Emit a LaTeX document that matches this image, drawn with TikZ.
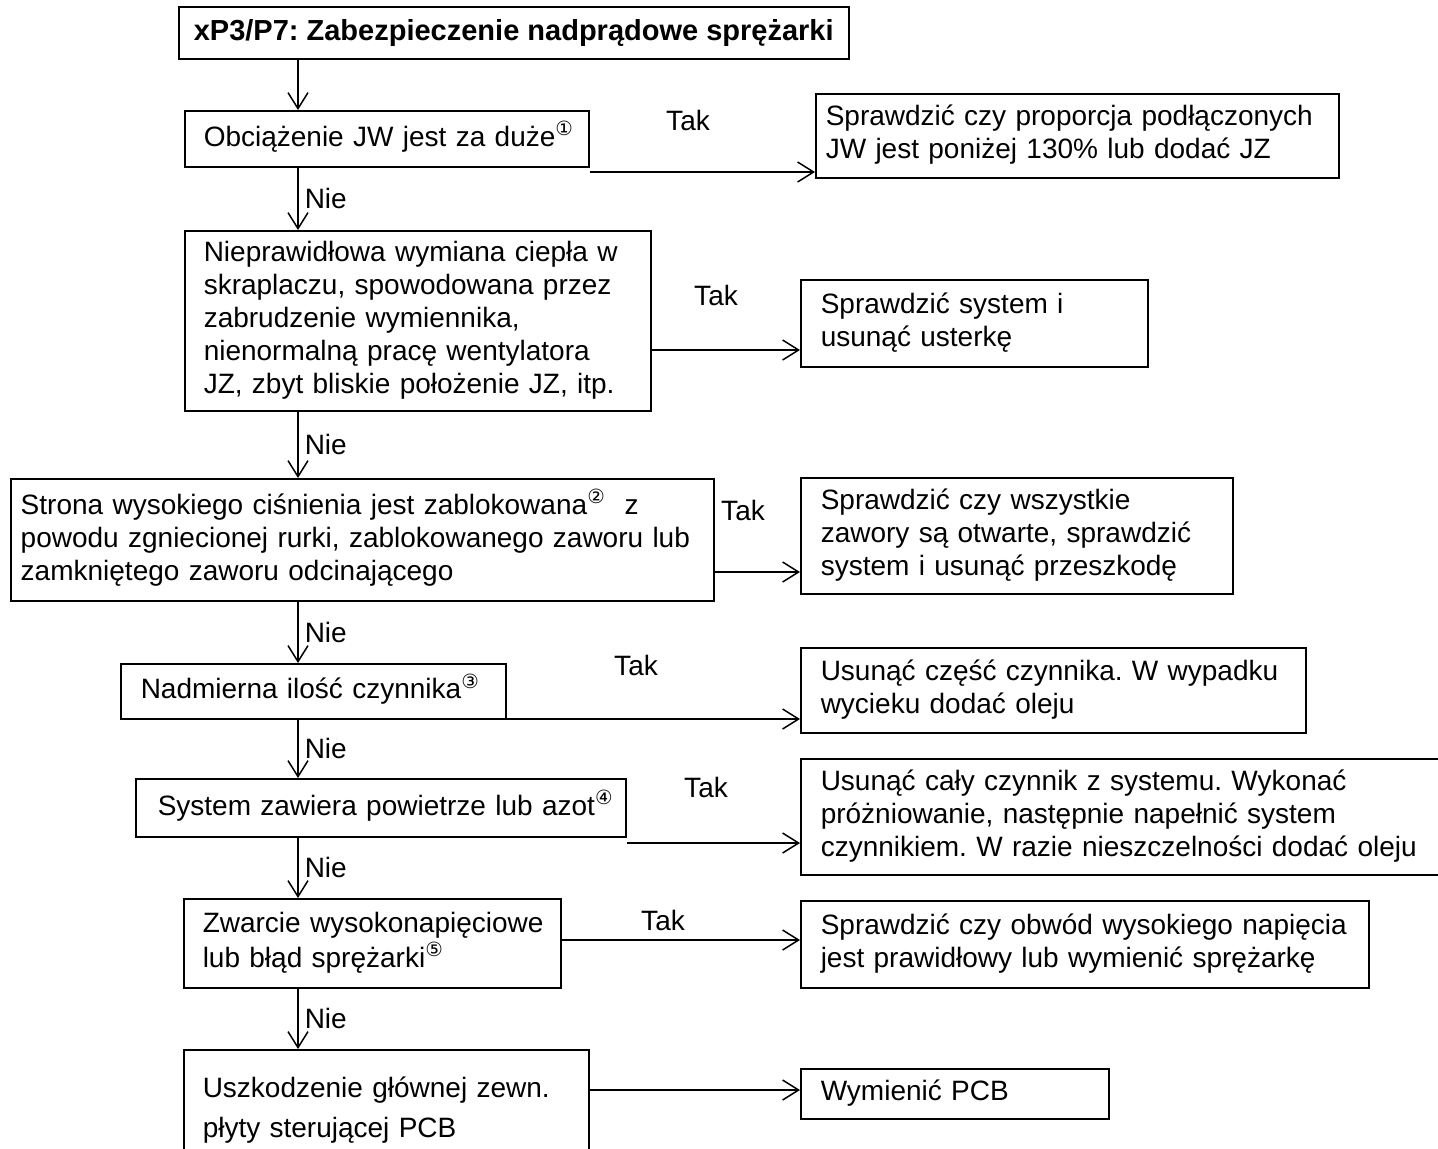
\documentclass[tikz,border=0pt]{standalone}
\usepackage{fontspec}
\setmainfont{Liberation Sans}
\newfontfamily\circfont{DejaVu Sans}
\usetikzlibrary{arrows.meta}
\frenchspacing
\newcommand{\fs}{\fontsize{14}{16.5}\selectfont}
\newcommand{\cnum}[1]{\textsuperscript{\circfont #1}}
\newcommand{\rows}[1]{\begin{tabular}{@{}l@{}}#1\end{tabular}}

\begin{document}
\begin{tikzpicture}[
  x=0.5pt, y=-0.5pt,
  head/.style={draw, line width=0.75pt, anchor=north west,
               font=\fontsize{14.5}{17}\selectfont\bfseries,
               minimum width=335pt, minimum height=26pt, inner sep=0pt},
  box/.style={draw, line width=0.75pt, anchor=north west, align=left,
              font=\fs, inner xsep=9.5pt, inner ysep=0pt},
  lbl/.style={font=\fs, inner sep=1pt},
  arr/.style={-{Straight Barb[length=8pt,width=10pt]}, line width=0.75pt}
]
  \useasboundingbox (0,0) rectangle (1438,1148);
  \clip (0,0) rectangle (1438,1148);

  \node[head] (tt) at (178,6) {xP3/P7: Zabezpieczenie nadprądowe sprężarki};

  \node[box, text width=183pt, minimum height=28pt] (b1) at (184,110)
    {\rows{Obciążenie JW jest za duże\cnum{①}}};
  \node[box, text width=214pt, minimum height=90pt] (b2) at (184,230)
    {\rows{Nieprawidłowa wymiana ciepła w\\ skraplaczu, spowodowana przez\\
     zabrudzenie wymiennika,\\ nienormalną pracę wentylatora\\
     JZ, zbyt bliskie położenie JZ, itp.}};
  \node[box, inner xsep=5pt, text width=341.5pt, minimum height=61pt] (b3) at (10,478)
    {\rows{Strona wysokiego ciśnienia jest zablokowana\cnum{②}\ \ z\\
     powodu zgniecionej rurki, zablokowanego zaworu lub\\
     zamkniętego zaworu odcinającego}};
  \node[box, inner xsep=10pt, text width=172.5pt, minimum height=27.5pt] (b4) at (120,663)
    {\rows{Nadmierna ilość czynnika\cnum{③}}};
  \node[box, inner xsep=11pt, text width=223pt, minimum height=29pt] (b5) at (135,778)
    {\rows{System zawiera powietrze lub azot\cnum{④}}};
  \node[box, text width=169.5pt, minimum height=44.5pt] (b6) at (183,898)
    {\rows{Zwarcie wysokonapięciowe\\ lub błąd sprężarki\cnum{⑤}}};
  \node[box, text width=183.5pt, minimum height=61pt] (b7) at (183,1049)
    {\rows{Uszkodzenie głównej zewn.\\[3.5pt] płyty sterującej PCB}};

  \node[box, inner xsep=5pt, text width=251.5pt, minimum height=42pt] (r1) at (815,93)
    {\rows{Sprawdzić czy proporcja podłączonych\\ JW jest poniżej 130\% lub dodać JZ}};
  \node[box, inner xsep=10pt, text width=153.5pt, minimum height=43.5pt] (r2) at (800,279)
    {\rows{Sprawdzić system i\\ usunąć usterkę}};
  \node[box, inner xsep=10pt, text width=196pt, minimum height=58pt] (r3) at (800,477)
    {\rows{Sprawdzić czy wszystkie\\ zawory są otwarte, sprawdzić\\ system i usunąć przeszkodę}};
  \node[box, inner xsep=10pt, text width=232.5pt, minimum height=42.5pt] (r4) at (800,647)
    {\rows{Usunąć część czynnika. W wypadku\\ wycieku dodać oleju}};
  \node[box, inner xsep=10pt, text width=310pt, minimum height=58pt] (r5) at (800,758)
    {\rows{Usunąć cały czynnik z systemu. Wykonać\\ próżniowanie, następnie napełnić system\\
     czynnikiem. W razie nieszczelności dodać oleju}};
  \node[box, inner xsep=10pt, text width=264pt, minimum height=43.5pt] (r6) at (800,900)
    {\rows{Sprawdzić czy obwód wysokiego napięcia\\ jest prawidłowy lub wymienić sprężarkę}};
  \node[box, inner xsep=10pt, text width=134pt, minimum height=25pt] (r7) at (800,1068)
    {\rows{Wymienić PCB}};

  \node[lbl] (t1) at (688,120) {Tak};
  \node[lbl] (t2) at (716,295) {Tak};
  \node[lbl] (t3) at (743,510) {Tak};
  \node[lbl] (t4) at (636,665) {Tak};
  \node[lbl] (t5) at (706,787) {Tak};
  \node[lbl] (t6) at (663,920) {Tak};

  \coordinate (vx) at (298,0);
  \draw[arr] (tt.south -| vx) -- (b1.north -| vx);
  \draw[arr] (b1.south -| vx) -- node[lbl, right=2pt] (n1) {Nie} (b2.north -| vx);
  \draw[arr] (b2.south -| vx) -- node[lbl, right=2pt] (n2) {Nie} (b3.north -| vx);
  \draw[arr] (b3.south -| vx) -- node[lbl, right=2pt] (n3) {Nie} (b4.north -| vx);
  \draw[arr] (b4.south -| vx) -- node[lbl, right=2pt] (n4) {Nie} (b5.north -| vx);
  \draw[arr] (b5.south -| vx) -- node[lbl, right=2pt] (n5) {Nie} (b6.north -| vx);
  \draw[arr] (b6.south -| vx) -- node[lbl, right=2pt] (n6) {Nie} (b7.north -| vx);

  \draw[arr] (b1.east |- 0,172) -- (r1.west |- 0,172);
  \draw[arr] (b2.east |- 0,350) -- (r2.west |- 0,350);
  \draw[arr] (b3.east |- 0,572) -- (r3.west |- 0,572);
  \draw[arr] (b4.east |- 0,719) -- (r4.west |- 0,719);
  \draw[arr] (b5.east |- 0,843) -- (r5.west |- 0,843);
  \draw[arr] (b6.east |- 0,940) -- (r6.west |- 0,940);
  \draw[arr] (b7.east |- 0,1090) -- (r7.west |- 0,1090);
\end{tikzpicture}
\end{document}
